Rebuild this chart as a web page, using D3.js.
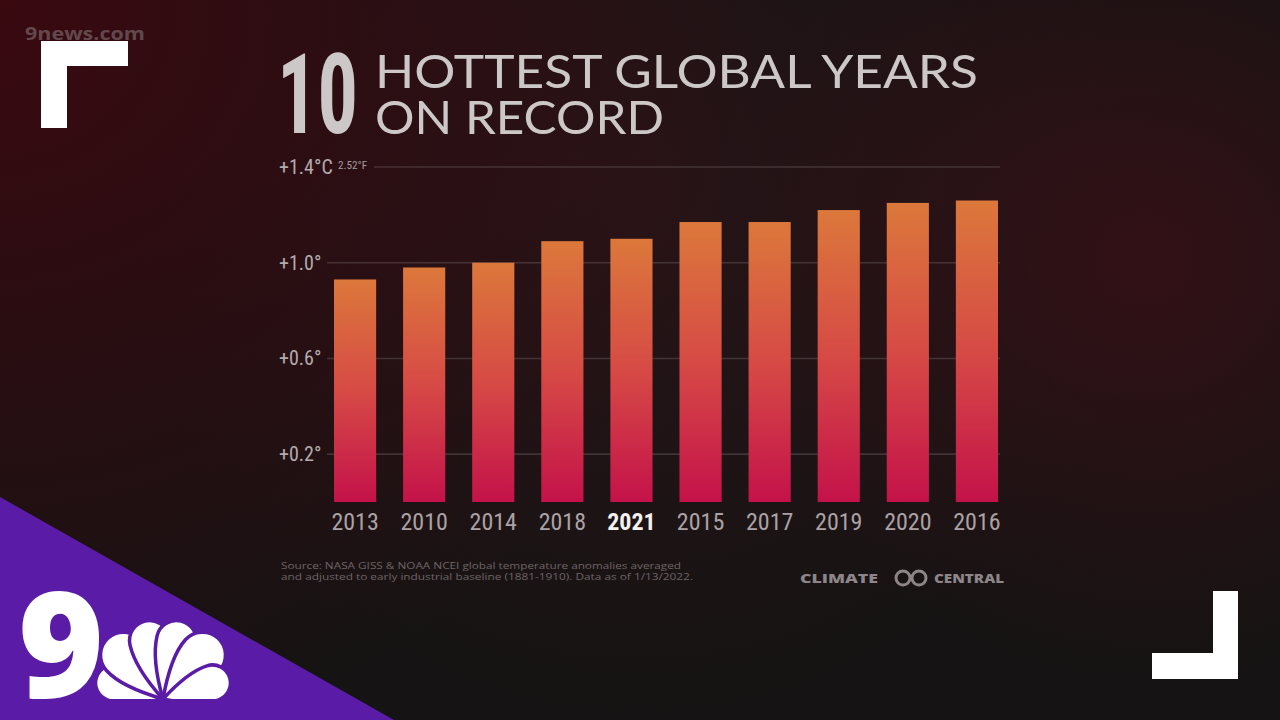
<!DOCTYPE html>
<html>
<head>
<meta charset="utf-8">
<script src="https://cdn.jsdelivr.net/npm/d3@7"></script>
<style>
  html, body { margin: 0; padding: 0; background: #151313; }
  svg { display: block; }
  .narrow { font-family: "Liberation Sans Narrow", "Roboto Condensed", "DejaVu Sans Condensed", Roboto, sans-serif; font-stretch: condensed; }
</style>
</head>
<body>
<svg id="chart" width="1280" height="720"></svg>
<script>
// chart data
const years = ["2013", "2010", "2014", "2018", "2021", "2015", "2017", "2019", "2020", "2016"];
const anomalies = [0.93, 0.98, 1.00, 1.09, 1.10, 1.17, 1.17, 1.22, 1.25, 1.26];
const tickValues = [0.2, 0.6, 1.0, 1.4];
const tickLabels = ["+0.2°", "+0.6°", "+1.0°", "+1.4°C"];
const highlightYear = "2021";

const svg = d3.select('#chart');
const W = 1280, H = 720;
const defs = svg.append('defs');

// background glows
const glowTL = defs.append('radialGradient').attr('id', 'glowTL')
  .attr('gradientUnits', 'userSpaceOnUse').attr('cx', 0).attr('cy', 0).attr('r', 760);
glowTL.append('stop').attr('offset', '0%').attr('stop-color', '#3a0910').attr('stop-opacity', 1);
glowTL.append('stop').attr('offset', '100%').attr('stop-color', '#3a0910').attr('stop-opacity', 0);

const glowR = defs.append('radialGradient').attr('id', 'glowR')
  .attr('gradientUnits', 'userSpaceOnUse').attr('cx', 1150).attr('cy', 260).attr('r', 420);
glowR.append('stop').attr('offset', '0%').attr('stop-color', '#3a1016').attr('stop-opacity', 0.8);
glowR.append('stop').attr('offset', '100%').attr('stop-color', '#3a1016').attr('stop-opacity', 0);

const glowC = defs.append('radialGradient').attr('id', 'glowC')
  .attr('gradientUnits', 'userSpaceOnUse').attr('cx', 640).attr('cy', 200).attr('r', 520);
glowC.append('stop').attr('offset', '0%').attr('stop-color', '#2c1418').attr('stop-opacity', 0.8);
glowC.append('stop').attr('offset', '100%').attr('stop-color', '#2c1418').attr('stop-opacity', 0);

svg.append('rect').attr('width', W).attr('height', H).attr('fill', '#151313');
svg.append('rect').attr('width', W).attr('height', H).attr('fill', 'url(#glowC)');
svg.append('rect').attr('width', W).attr('height', H).attr('fill', 'url(#glowTL)');
svg.append('rect').attr('width', W).attr('height', H).attr('fill', 'url(#glowR)');

// bar gradient
const barGrad = defs.append('linearGradient').attr('id', 'barGrad')
  .attr('x1', 0).attr('y1', 0).attr('x2', 0).attr('y2', 1);
barGrad.append('stop').attr('offset', '0%').attr('stop-color', '#dc783b');
barGrad.append('stop').attr('offset', '50%').attr('stop-color', '#d64a45');
barGrad.append('stop').attr('offset', '100%').attr('stop-color', '#c4124a');

// scales
const x = d3.scaleBand().domain(years).range([334, 998]).paddingInner(0.39).paddingOuter(0);
const y = d3.scaleLinear().domain([0, 1.4]).range([502, 167]);

// title
const titleFill = '#cdc8c8';
svg.append('text').attr('class', 'narrow')
  .attr('x', 277).attr('y', 133)
  .attr('font-size', 112).attr('font-weight', 700)
  .attr('textLength', 81).attr('lengthAdjust', 'spacingAndGlyphs')
  .attr('fill', titleFill).text('10');
svg.append('text')
  .attr('x', 375).attr('y', 88)
  .attr('font-family', 'Lato, "Open Sans", sans-serif')
  .attr('font-size', 47).attr('font-weight', 400)
  .attr('textLength', 603).attr('lengthAdjust', 'spacingAndGlyphs')
  .attr('fill', titleFill).text('HOTTEST GLOBAL YEARS');
svg.append('text')
  .attr('x', 375).attr('y', 134)
  .attr('font-family', 'Lato, "Open Sans", sans-serif')
  .attr('font-size', 47).attr('font-weight', 400)
  .attr('textLength', 289).attr('lengthAdjust', 'spacingAndGlyphs')
  .attr('fill', titleFill).text('ON RECORD');

// gridlines
const grid = svg.append('g');
grid.selectAll('line').data(tickValues).join('line')
  .attr('x1', d => d === 1.4 ? 374 : 327)
  .attr('x2', 1000)
  .attr('y1', d => y(d)).attr('y2', d => y(d))
  .attr('stroke', '#ffffff').attr('stroke-opacity', 0.14).attr('stroke-width', 1.6);

// y labels
const yLab = svg.append('g').attr('class', 'narrow');
yLab.selectAll('text').data(tickValues).join('text')
  .attr('x', 279)
  .attr('y', d => y(d) + 7)
  .attr('font-size', 20)
  .attr('fill', '#b3abad')
  .text((d, i) => tickLabels[i]);
yLab.append('text')
  .attr('x', 338).attr('y', y(1.4) + 2)
  .attr('font-size', 10).attr('fill', '#a59d9f')
  .attr('textLength', 29).attr('lengthAdjust', 'spacingAndGlyphs')
  .text('2.52°F');

// bars
svg.append('g').selectAll('rect').data(years).join('rect')
  .attr('x', d => x(d))
  .attr('width', x.bandwidth())
  .attr('y', (d, i) => y(anomalies[i]))
  .attr('height', (d, i) => y(0) - y(anomalies[i]))
  .attr('fill', 'url(#barGrad)');

// year labels
svg.append('g').attr('class', 'narrow').selectAll('text').data(years).join('text')
  .attr('x', d => x(d) + x.bandwidth() / 2)
  .attr('y', 530)
  .attr('text-anchor', 'middle')
  .attr('font-size', 24)
  .attr('font-weight', d => d === highlightYear ? 700 : 400)
  .attr('fill', d => d === highlightYear ? '#f5f1f1' : '#aca2a5')
  .text(d => d);

// source note
const src = svg.append('text')
  .attr('font-family', '"Open Sans", sans-serif')
  .attr('font-size', 8.2).attr('fill', '#6e6466');
src.append('tspan').attr('x', 281).attr('y', 569)
  .attr('textLength', 400).attr('lengthAdjust', 'spacingAndGlyphs')
  .text('Source: NASA GISS & NOAA NCEI global temperature anomalies averaged');
src.append('tspan').attr('x', 281).attr('y', 580)
  .attr('textLength', 412).attr('lengthAdjust', 'spacingAndGlyphs')
  .text('and adjusted to early industrial baseline (1881-1910). Data as of 1/13/2022.');

// Climate Central logo
const cc = svg.append('g').attr('fill', '#8d8588')
  .attr('font-family', '"Open Sans", sans-serif').attr('font-weight', 800).attr('font-size', 12.5);
cc.append('text').attr('x', 800).attr('y', 583)
  .attr('textLength', 78).attr('lengthAdjust', 'spacingAndGlyphs').text('CLIMATE');
cc.append('text').attr('x', 934).attr('y', 583)
  .attr('textLength', 70).attr('lengthAdjust', 'spacingAndGlyphs').text('CENTRAL');
cc.selectAll('circle').data([903, 919]).join('circle')
  .attr('cx', d => d).attr('cy', 578).attr('r', 7)
  .attr('fill', 'none').attr('stroke', '#8d8588').attr('stroke-width', 3);

// 9news.com watermark
svg.append('text').attr('x', 25).attr('y', 40)
  .attr('font-family', '"Open Sans", sans-serif').attr('font-weight', 700)
  .attr('font-size', 18).attr('fill', '#6f5a5d').attr('fill-opacity', 0.8)
  .attr('textLength', 120).attr('lengthAdjust', 'spacingAndGlyphs')
  .text('9news.com');

// corner brackets
const white = '#ffffff';
svg.append('path').attr('fill', white)
  .attr('d', 'M41,41 H128 V66 H67 V128 H41 Z');
svg.append('path').attr('fill', white)
  .attr('d', 'M1238,591 V679 H1152 V653 H1213 V591 Z');

// purple corner with 9 + peacock
const purple = '#5a1ca6';
svg.append('path').attr('fill', purple)
  .attr('d', 'M0,497 L394,720 L0,720 Z');
svg.append('text').attr('x', 18).attr('y', 698)
  .attr('font-family', '"Open Sans", Lato, sans-serif').attr('font-weight', 800)
  .attr('font-size', 148).attr('fill', white)
  .attr('textLength', 86).attr('lengthAdjust', 'spacingAndGlyphs')
  .text('9');

const featherAngles = [-72, -42, -13, 13, 42, 72];
const featherLen = [70, 82, 80, 80, 82, 70];
const featherW = [36, 46, 40, 40, 46, 36];
const peacock = svg.append('g').attr('transform', 'translate(163,699)');
peacock.selectAll('path').data(featherAngles).join('path')
  .attr('fill', white)
  .attr('stroke', purple).attr('stroke-width', 3.5)
  .attr('transform', d => `rotate(${d})`)
  .attr('d', (d, i) => {
    const L = featherLen[i], w = featherW[i] / 2;
    return `M0,0 Q${-w},${-L * 0.45} ${-w},${-(L - w)} A${w},${w} 0 0 1 ${w},${-(L - w)} Q${w},${-L * 0.45} 0,0 Z`;
  });
// clip peacock at baseline
svg.append('rect').attr('x', 80).attr('y', 699).attr('width', 170).attr('height', 21).attr('fill', purple);
</script>
</body>
</html>
